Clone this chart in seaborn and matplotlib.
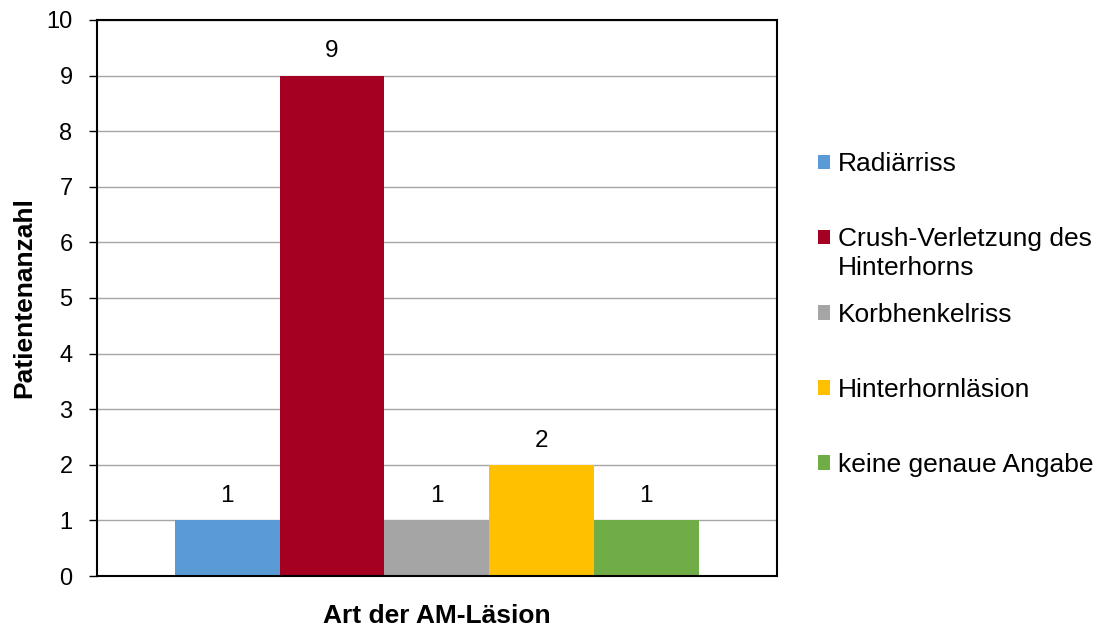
import matplotlib
matplotlib.use("Agg")
import pandas as pd
import seaborn as sns
from matplotlib import pyplot as plt

# data
group = "Art der AM-Läsion"
categories = [
    "Radiärriss",
    "Crush-Verletzung des Hinterhorns",
    "Korbhenkelriss",
    "Hinterhornläsion",
    "keine genaue Angabe",
]
counts = [1, 9, 1, 2, 1]
colors = ["#5B9BD5", "#A50021", "#A5A5A5", "#FFC000", "#70AD47"]
y_ticks = list(range(0, 11))

sns.set_theme(style="white")
plt.rcParams["font.family"] = ["Liberation Sans", "DejaVu Sans"]
plt.rcParams["text.color"] = "black"
plt.rcParams["axes.labelcolor"] = "black"
plt.rcParams["ytick.color"] = "black"

df = pd.DataFrame({"Gruppe": [group] * len(categories), "Art": categories, "Anzahl": counts})

fig = plt.figure(figsize=(11.02, 6.28), dpi=100)
ax = fig.add_axes([0.0876, 0.0828, 0.6175, 0.8854])

sns.barplot(
    data=df, x="Gruppe", y="Anzahl", hue="Art", hue_order=categories,
    palette=colors, width=0.77, saturation=1, linewidth=0, ax=ax, legend=True,
)

for cont in ax.containers:
    ax.bar_label(cont, fontsize=17.5, padding=9.5, color="black")

ax.set_ylim(0, 10)
ax.set_yticks(y_ticks)
ax.set_xlim(-0.5, 0.5)
ax.set_xticks([])
ax.yaxis.grid(True, color="#A6A6A6", linewidth=1)
ax.set_axisbelow(True)
ax.tick_params(axis="y", which="both", left=True, length=5.8, width=1,
               color="black", labelsize=17, pad=11.5)
for s in ax.spines.values():
    s.set_color("black")
    s.set_linewidth(1.5)
    s.set_visible(True)

ax.set_xlabel(group, fontsize=19, fontweight="bold", labelpad=20)
ax.set_ylabel("Patientenanzahl", fontsize=19, fontweight="bold", labelpad=7)

# legend like Excel: evenly spaced slots, long label wraps below its first line
handles, labels = ax.get_legend_handles_labels()
first_lines, wrapped = [], {}
for i, lab in enumerate(labels):
    if lab == "Crush-Verletzung des Hinterhorns":
        first_lines.append("Crush-Verletzung des")
        wrapped[i] = "Hinterhorns"
    else:
        first_lines.append(lab)
leg = ax.legend(
    handles, first_lines, loc="upper left", bbox_to_anchor=(1.0444, 0.781),
    frameon=False, fontsize=19, handlelength=0.47, handleheight=0.47,
    handletextpad=0.3, labelspacing=1.94, borderaxespad=0,
)
fig.canvas.draw()
for i, rest in wrapped.items():
    ax.annotate(rest, xy=(0, 0), xycoords=leg.get_texts()[i],
                xytext=(0, -29), textcoords="offset pixels",
                fontsize=19, ha="left", va="bottom", annotation_clip=False,
                zorder=6)

fig.savefig("out.png", dpi=100)
